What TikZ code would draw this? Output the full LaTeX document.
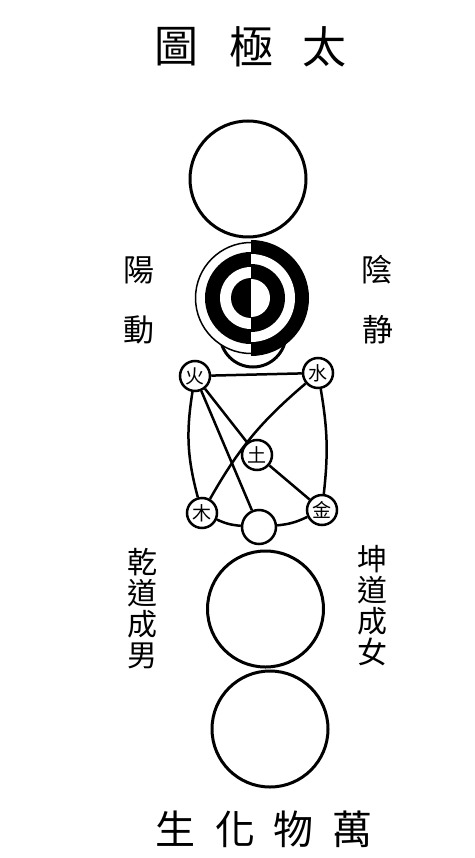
\documentclass[tikz,border=0pt]{standalone}
\usepackage{fontspec}
\newfontfamily\cjk{Noto Sans CJK TC}
\usetikzlibrary{positioning}
\begin{document}
\begin{tikzpicture}[x=1pt, y=1pt, on grid,
    ring/.style = {draw, circle, line width=3pt, minimum size=116pt, inner sep=0pt},
    elem/.style = {draw, circle, line width=2.5pt, fill=white, minimum size=30pt, inner sep=0pt, font=\cjk\fontsize{19}{19}\selectfont},
    link/.style = {line width=2.5pt},
    word/.style = {inner sep=0pt, font=\cjk\fontsize{31}{31}\selectfont},
    column/.style = {inner sep=0pt, align=center, font=\cjk\fontsize{30}{31}\selectfont}]
    \useasboundingbox (0,0) rectangle (474,-858);
    % title
    \node[word, font=\cjk\fontsize{44}{44}\selectfont] (t1) at (176,-47) {圖};
    \node[word, font=\cjk\fontsize{44}{44}\selectfont] (t2) [right=75pt of t1] {極};
    \node[word, font=\cjk\fontsize{44}{44}\selectfont] (t3) [right=73pt of t2] {太};
    % wuji
    \node[ring] (wuji) at (248,-179) {};
    \coordinate[below=119pt of wuji, xshift=3pt] (kanli);
    \node[ring, minimum size=66pt, fill=white] (yinc) [below=155pt of wuji, xshift=5pt] {};
    % kan li
    \begin{scope}[shift={(kanli)}]
        \draw[line width=1.5pt, fill=white] (0,0) circle (55.5pt);
        \fill (0,46) arc (90:270:46pt) -- cycle;
        \fill[white] (0,31) arc (90:270:31pt) -- cycle;
        \fill (0,20) arc (90:270:20pt) -- cycle;
        \fill (0,-58) arc (-90:90:58pt) -- cycle;
        \fill[white] (0,-44) arc (-90:90:44pt) -- cycle;
        \fill (0,-34) arc (-90:90:34pt) -- cycle;
        \fill[white] (0,-19) arc (-90:90:19pt) -- cycle;
    \end{scope}
    \node[word] (yang) [below=91pt of wuji, xshift=-109pt] {陽};
    \node[word] (dong) [below=60pt of yang] {動};
    \node[word] (yin) [right=238pt of yang] {陰};
    \node[word] (jing) [right=239pt of dong] {静};
    % five elements
    \node[elem] (huo) [below=197pt of wuji, xshift=-53pt] {火};
    \node[elem] (shui) [below=194pt of wuji, xshift=70pt] {水};
    \node[elem] (tu) [below=276pt of wuji, xshift=9pt] {土};
    \node[elem] (mu) [below=137pt of huo, xshift=7pt] {木};
    \node[elem] (jin) [below=137pt of shui, xshift=4pt] {金};
    \node[elem, minimum size=34pt] (he) [below=72pt of tu, xshift=2pt] {};
    \draw[link] (huo) -- (shui);
    \draw[link] (huo) to[bend right=12] (mu);
    \draw[link] (shui) to[bend left=8] (jin);
    \draw[link] (huo) -- (tu);
    \draw[link] (tu) -- (jin);
    \draw[link] (shui) to[bend right=10] (mu);
    \draw[link] (huo) -- (he);
    \draw[link] (mu) to[bend right=10] (he);
    \draw[link] (he) to[bend right=10] (jin);
    % qian kun
    \node[ring] (qian) [below=82pt of he, xshift=6.5pt] {};
    \node[column] (nan) [left=123.5pt of qian] {乾\\道\\成\\男};
    \node[column] (nv) [right=106.5pt of qian, yshift=3pt] {坤\\道\\成\\女};
    % wanwu
    \node[ring] (wanwu) [below=120pt of qian, xshift=4.5pt] {};
    \node[word, font=\cjk\fontsize{40}{40}\selectfont] (b1) [below=100pt of wanwu, xshift=-95pt] {生};
    \node[word, font=\cjk\fontsize{40}{40}\selectfont] (b2) [right=60pt of b1] {化};
    \node[word, font=\cjk\fontsize{40}{40}\selectfont] (b3) [right=58pt of b2] {物};
    \node[word, font=\cjk\fontsize{40}{40}\selectfont] (b4) [right=59pt of b3] {萬};
\end{tikzpicture}
\end{document}
